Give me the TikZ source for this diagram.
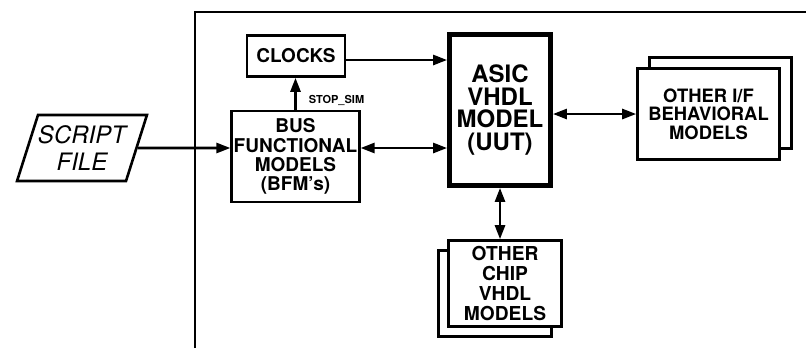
\documentclass[tikz,border=0pt]{standalone}
\usepackage{fontspec}
\setmainfont{TeX Gyre Heros}
\usetikzlibrary{arrows.meta,positioning,shapes.geometric,shadows}

\begin{document}
\begin{tikzpicture}[
x=0.5pt, y=-0.5pt,
box/.style={draw, line width=1.3pt, fill=white, align=center, inner sep=1pt, font=\bfseries\fontsize{9.5}{9.6}\selectfont},
stack/.style={box, copy shadow={#1}},
arrow/.style={-{Triangle[length=7pt,width=5pt]}, line width=1.3pt},
both/.style={{Triangle[length=7pt,width=5pt]}-{Triangle[length=7pt,width=5pt]}, line width=1.3pt},
tag/.style={font=\bfseries\fontsize{5.5}{6}\selectfont, inner sep=1pt}
]
\useasboundingbox (0,0) rectangle (806,350);

% test bench frame
\draw[line width=1.3pt] (195,348) -- (195,12) -- (806,12);

\node[trapezium, trapezium left angle=65, trapezium right angle=115, trapezium stretches=true,
  draw, line width=1.3pt, minimum width=63pt, minimum height=33pt, align=center, inner sep=0pt,
  font=\itshape\fontsize{12}{13.5}\selectfont] (script) at (82,148) {SCRIPT\\FILE};

\node[box, minimum width=49pt, minimum height=20.5pt] (clocks) at (296,56) {CLOCKS};
\node[box, minimum width=62.5pt, minimum height=45.5pt] (bfm) at (295.5,156.5) {BUS\\FUNCTIONAL\\MODELS\\(BFM's)};
\node[box, line width=2.4pt, minimum width=50.5pt, minimum height=75.5pt,
  font=\bfseries\fontsize{12}{11.2}\selectfont] (asic) at (500,110) {ASIC\\VHDL\\MODEL\\(UUT)};
\node[stack={shadow xshift=6pt, shadow yshift=5.5pt}, minimum width=71pt, minimum height=45.5pt,
  font=\bfseries\fontsize{9.2}{9.3}\selectfont] (oif) at (708.5,114) {OTHER I/F\\BEHAVIORAL\\MODELS};
\node[stack={shadow xshift=-5pt, shadow yshift=-5pt}, minimum width=56.5pt, minimum height=43pt,
  font=\bfseries\fontsize{9.6}{10}\selectfont] (chip) at (505,283.5) {OTHER\\CHIP\\VHDL\\MODELS};

\draw[arrow] (script) -- (script -| bfm.west);
\draw[arrow] (bfm.north) -- node[tag, right=5pt, pos=0.3] (stopsim) {STOP\_SIM} (bfm.north |- clocks.south);
\draw[arrow] ([yshift=-2pt]clocks.east) coordinate (ck) -- (ck -| asic.west);
\draw[both] (bfm.east |- script) -- (asic.west |- script);
\draw[both] (oif -| asic.east) -- (oif.west);
\draw[both] (asic.south) -- (asic.south |- chip.north);
\end{tikzpicture}
\end{document}
